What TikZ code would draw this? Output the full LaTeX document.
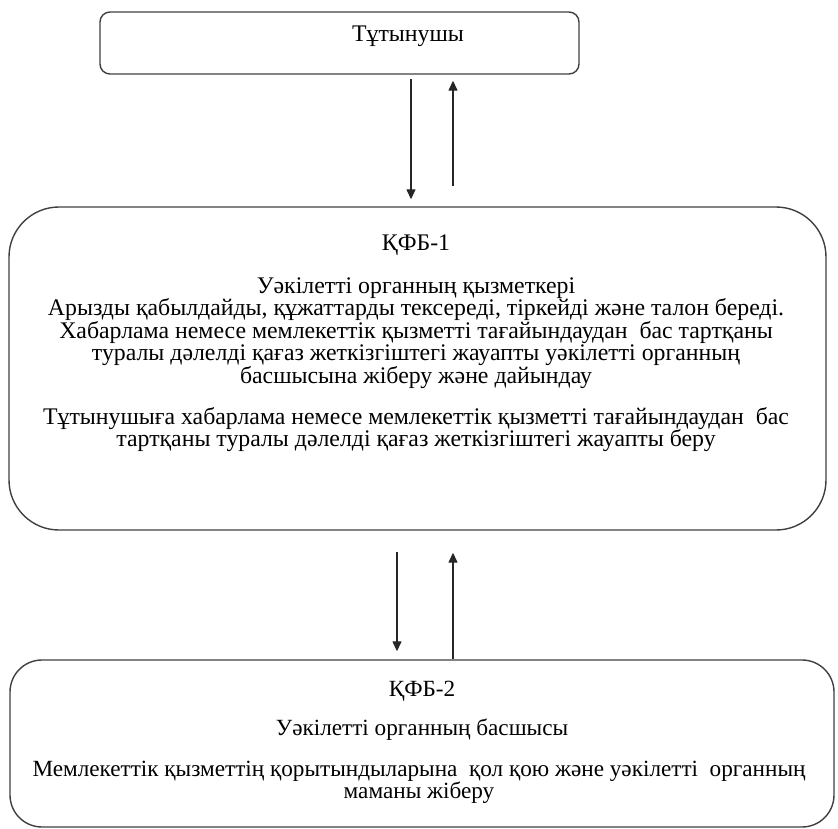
\documentclass[tikz,border=0pt]{standalone}
\usepackage{fontspec}
\setmainfont{Liberation Serif}
\usetikzlibrary{arrows.meta}
\begin{document}
\begin{tikzpicture}[x=1pt,y=1pt,
  box/.style={draw=black!75,line width=1.4pt,inner sep=0pt},
  txt/.style={anchor=base,inner sep=0pt,text=black,
    font=\fontsize{23.8}{22.5}\selectfont},
  smalltxt/.style={txt,font=\fontsize{23.2}{22.5}\selectfont},
  arr/.style={draw=black!85,line width=1.3pt,
    -{Triangle[length=10pt,width=9pt]}}]
\useasboundingbox (0,0) rectangle (838,-829);

% boxes
\node[box,rounded corners=10pt,minimum width=479pt,minimum height=62pt]
  (consumer) at (339.5,-43) {};
\node[box,rounded corners=50pt,minimum width=817pt,minimum height=323pt]
  (k1) at (417.5,-368.5) {};
\node[box,rounded corners=32pt,minimum width=824pt,minimum height=167pt]
  (k2) at (422,-743.5) {};

% consumer
\node[txt] (t0) at (408,-42) {Тұтынушы};

% first step
\node[txt] (t1) at (416,-251) {ҚФБ-1};
\node[txt] (t2) at (416,-293) {Уәкілетті органның қызметкері};
\node[txt] (t3) at (416,-315.5) {Арызды қабылдайды, құжаттарды тексереді, тіркейді және талон береді.};
\node[txt] (t4) at (416,-338) {Хабарлама немесе мемлекеттік қызметті тағайындаудан\ \ бас тартқаны};
\node[txt] (t5) at (416,-360.5) {туралы дәлелді қағаз\ жеткізгіштегі жауапты\ уәкілетті органның};
\node[txt] (t6) at (416,-383) {басшысына жіберу және дайындау};
\node[txt] (t7) at (416,-424) {Тұтынушыға хабарлама немесе мемлекеттік қызметті тағайындаудан\ \ бас};
\node[txt] (t8) at (416,-446.5) {тартқаны туралы дәлелді қағаз жеткізгіштегі\ жауапты беру};

% second step
\node[smalltxt] (t9) at (422,-696) {ҚФБ-2};
\node[smalltxt] (t10) at (422,-735) {Уәкілетті органның басшысы};
\node[smalltxt] (t11) at (419,-776) {Мемлекеттік қызметтің қорытындыларына\ \ қол қою және уәкілетті\ \ органның};
\node[smalltxt] (t12) at (419,-798.5) {маманы жіберу};

% connectors
\draw[arr] ([xshift=71.5pt,yshift=-4pt]consumer.south) -- ([xshift=-6.5pt,yshift=7pt]k1.north);
\draw[arr] ([xshift=35.5pt,yshift=20pt]k1.north) -- ([xshift=113.5pt,yshift=-6pt]consumer.south);
\draw[arr] ([xshift=-20.5pt,yshift=-21pt]k1.south) -- ([xshift=-25pt,yshift=8pt]k2.north);
\draw[arr] ([xshift=31pt]k2.north) -- ([xshift=35.5pt,yshift=-22pt]k1.south);
\end{tikzpicture}
\end{document}
